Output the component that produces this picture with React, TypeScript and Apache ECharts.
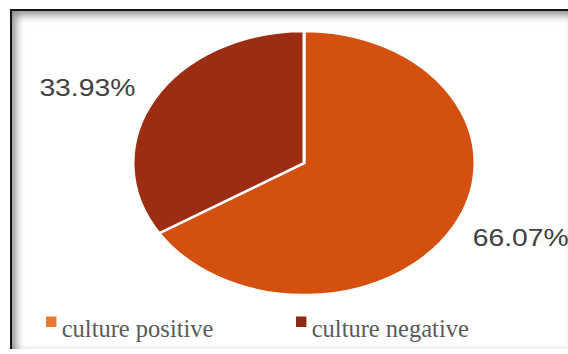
import React, { useEffect, useRef } from "react";
import * as echarts from "echarts";

const categories: string[] = ["culture positive", "culture negative"];
const values: number[] = [66.07, 33.93];
const sliceColors: string[] = ["#D4500F", "#9C2D12"];
const legendColors: string[] = ["#E8792F", "#8E2A14"];
const legendLefts: number[] = [46, 296];

const CX = 304;
const CY = 163;
const RX = 171;
const RY = 132;

export default function App() {
  const ref = useRef<HTMLDivElement>(null);

  useEffect(() => {
    if (!ref.current) return;
    const chart = echarts.init(ref.current, undefined, { renderer: "svg" });
    const total = values.reduce((a, b) => a + b, 0);
    const cums: number[] = [];
    let acc = 0;
    values.forEach((v) => {
      cums.push(acc);
      acc += v;
    });

    const series = categories.map((name, i) => ({
      type: "custom",
      name,
      coordinateSystem: "none",
      silent: true,
      itemStyle: { color: sliceColors[i] },
      data: [[values[i]]],
      renderItem: (_params: any, api: any) => {
        const v = api.value(0) as number;
        const start = -Math.PI / 2 + (2 * Math.PI * cums[i]) / total;
        const end = start + (2 * Math.PI * v) / total;
        const mid = (start + end) / 2;
        const ex = CX + RX * Math.cos(mid);
        const ey = CY + RY * Math.sin(mid);
        const lx = ex + Math.sign(Math.cos(mid)) * 67;
        const ly = ey + Math.sign(Math.sin(mid)) * 11.5;
        const pct = ((v / total) * 100).toFixed(2) + "%";
        return {
          type: "group",
          children: [
            {
              type: "sector",
              x: CX,
              y: CY,
              scaleY: RY / RX,
              shape: { cx: 0, cy: 0, r: RX, r0: 0, startAngle: start, endAngle: end, clockwise: true },
              style: { fill: sliceColors[i], stroke: "#ffffff", lineWidth: 3, strokeNoScale: true },
            },
            {
              type: "text",
              x: lx,
              y: ly,
              scaleX: 1.23,
              style: {
                text: pct,
                fill: "#404040",
                fontSize: 23,
                fontFamily: "Liberation Sans, Arial, sans-serif",
                align: "center",
                verticalAlign: "middle",
              },
            },
          ],
        };
      },
    }));

    const legend = categories.map((name, i) => ({
      data: [{ name, itemStyle: { color: legendColors[i] } }],
      left: legendLefts[i],
      top: 316,
      padding: 0,
      icon: "path://M0,0h10v10h-10z M0,23h10",
      itemWidth: 11,
      itemHeight: 24,
      selectedMode: false,
      textStyle: {
        color: "#5a5a5a",
        fontSize: 24.5,
        fontFamily: "Liberation Serif, Times New Roman, serif",
      },
    }));

    chart.setOption({
      animation: false,
      backgroundColor: "transparent",
      legend,
      series,
    } as any);

    return () => chart.dispose();
  }, []);

  return (
    <div style={{ position: "fixed", left: 0, top: 0, width: 568, height: 354, background: "#ffffff", overflow: "hidden" }}>
      <div
        style={{
          position: "absolute",
          left: 10,
          top: 9,
          width: 560,
          height: 340,
          borderTop: "2px solid #151515",
          borderLeft: "2px solid #151515",
          boxShadow: "inset 6px 6px 8px -2px rgba(0,0,0,0.45), inset -3px -3px 3px rgba(0,0,0,0.05)",
          background: "#ffffff",
          boxSizing: "border-box",
        }}
      />
      <div ref={ref} style={{ position: "absolute", left: 0, top: 0, width: 568, height: 354 }} />
    </div>
  );
}
